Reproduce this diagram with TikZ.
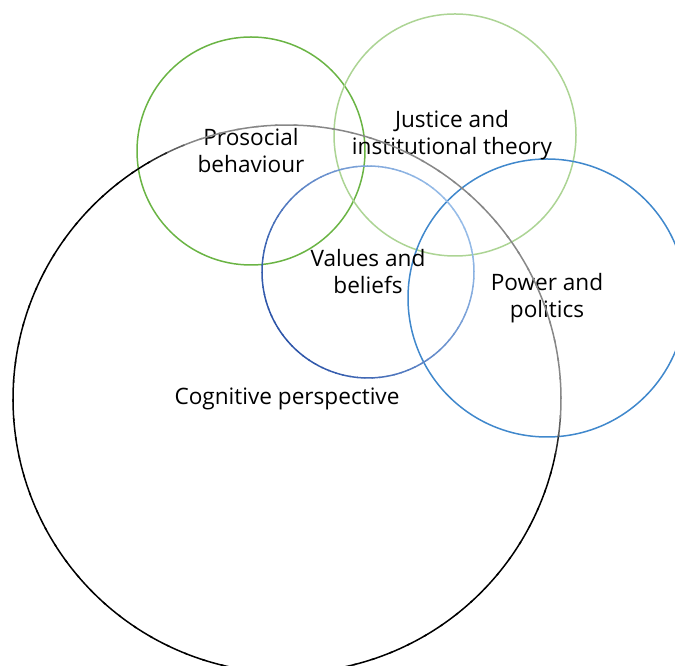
\documentclass[tikz,border=0pt]{standalone}
\usepackage{fontspec}
\setmainfont{Open Sans}
\usetikzlibrary{positioning}
\definecolor{prosgreen}{RGB}{106,180,68}
\definecolor{justgreen}{RGB}{172,212,148}
\definecolor{powblue}{RGB}{64,136,204}
\definecolor{valdark}{RGB}{44,84,168}
\definecolor{vallight}{RGB}{150,188,232}
\definecolor{coggray}{RGB}{135,135,135}

\begin{document}
\begin{tikzpicture}[x=1pt, y=1pt,
        ring/.style={circle, inner sep=0pt, align=center, font=\fontsize{22.6}{27}\selectfont},
        edge/.style={line width=1.5pt}
    ]
    \useasboundingbox (0,0) rectangle (675,666);
    \clip (0,0) rectangle (675,666);

    % Circles
    \node[ring, minimum size=548pt] (cog) at (287,267) {Cognitive perspective};
    \node[ring, minimum size=228pt, draw=prosgreen, edge] (pro) at (251,515) {Prosocial\\behaviour};
    \node[ring, minimum size=242pt, draw=justgreen, edge] (just) at (455,531) {};
    \node[ring, minimum size=278pt, draw=powblue, edge] (pow) at (547,368) {Power and\\politics};
    \node[ring, minimum size=212pt] (val) at (368,394) {Values and\\beliefs};
    \node[ring, xshift=-3pt] (justlabel) at (just.center) {Justice and\\institutional theory};

    % Shaded outlines
    \foreach \a in {0,4,...,356}{
        \pgfmathsetmacro\t{max(0,min(100,(cos(\a+2-54)-0.40)*700))}
        \draw[edge, draw=coggray!\t!black] (cog.center) ++(\a:274pt) arc[start angle=\a, end angle=\a+4.6, radius=274pt];
    }
    \foreach \a in {0,4,...,356}{
        \pgfmathsetmacro\t{(1+cos(\a+2-35))*50}
        \draw[edge, draw=vallight!\t!valdark] (val.center) ++(\a:106pt) arc[start angle=\a, end angle=\a+4.6, radius=106pt];
    }
\end{tikzpicture}
\end{document}
